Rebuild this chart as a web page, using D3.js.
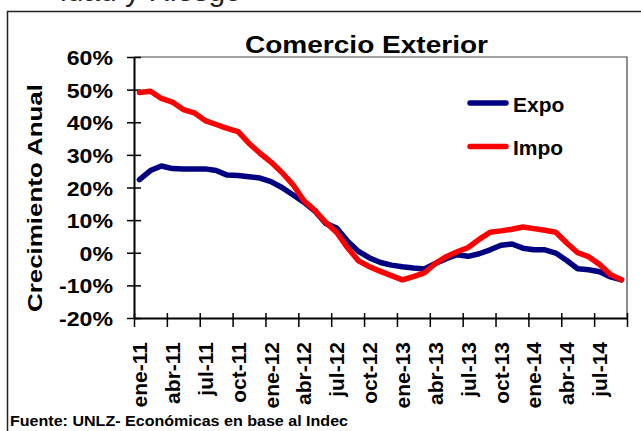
<!DOCTYPE html>
<html>
<head>
<meta charset="utf-8">
<script src="https://cdn.jsdelivr.net/npm/d3@7"></script>
<style>
  body { margin: 0; background: #fff; }
  svg { display: block; font-family: "Liberation Sans", Arial, sans-serif; }
</style>
</head>
<body>
<div id="chart"></div>
<script>
// Month labels, ene-11 to sep-14
const monthNames = ["ene", "feb", "mar", "abr", "may", "jun", "jul", "ago", "sep", "oct", "nov", "dic"];
const years = ["11", "12", "13", "14"];
const months = [];
years.forEach(y => monthNames.forEach(m => months.push(m + "-" + y)));
months.length = 45;

// Annual growth (%)
const expo = [22.4, 25.2, 26.6, 25.8, 25.7, 25.7, 25.7, 25.2, 23.8, 23.7, 23.3, 22.9,
              21.8, 20.0, 17.8, 15.5, 12.8, 9.0, 7.6, 3.5, 0.4, -1.6, -3.0, -3.8,
              -4.3, -4.7, -5.0, -3.3, -1.8, -0.6, -1.1, -0.3, 0.9, 2.3, 2.7, 1.4,
              0.9, 0.9, -0.1, -2.4, -4.9, -5.2, -5.8, -7.4, -8.3];
const impo = [49.1, 49.5, 47.3, 46.2, 43.9, 42.9, 40.5, 39.3, 38.1, 37.1, 33.5, 30.5,
              27.8, 24.6, 20.9, 16.0, 13.0, 9.3, 6.2, 1.5, -2.5, -4.3, -5.7, -7.0,
              -8.3, -7.3, -6.2, -3.3, -1.2, 0.3, 1.6, 4.1, 6.3, 6.7, 7.2, 7.9,
              7.4, 6.9, 6.3, 3.0, 0.0, -1.2, -3.6, -6.7, -8.3];
const yTicks = [-20, -10, 0, 10, 20, 30, 40, 50, 60];

const series = [
  { name: "Expo", values: expo, color: "#000080" },
  { name: "Impo", values: impo, color: "#ff0000" }
];

const W = 641, H = 431;
const plot = { left: 134, right: 627, top: 57, bottom: 318 };

const svg = d3.select("#chart").append("svg")
  .attr("width", W).attr("height", H);

svg.append("rect").attr("width", W).attr("height", H).attr("fill", "#fff");

// clipped heading from the page above the chart
svg.append("text")
  .attr("x", 60).attr("y", 0.5)
  .style("font-size", "30px").style("fill", "#222")
  .text("idad y Riesgo");

// outer chart frame
svg.append("rect")
  .attr("x", 7.5).attr("y", 11.5)
  .attr("width", W + 10).attr("height", H + 10)
  .attr("fill", "none").attr("stroke", "#222").attr("stroke-width", 1.5);

const x = d3.scaleLinear().domain([0, months.length]).range([plot.left, plot.right]);
const y = d3.scaleLinear().domain([-20, 60]).range([plot.bottom, plot.top]);

// plot area border (top and right)
svg.append("path")
  .attr("d", `M${plot.left},${plot.top}H${plot.right}V${plot.bottom}`)
  .attr("fill", "none").attr("stroke", "#444").attr("stroke-width", 1.2);

// y axis
const yAxis = svg.append("g")
  .attr("transform", `translate(${plot.left},0)`)
  .call(d3.axisLeft(y).tickValues(yTicks).tickFormat(d => d + "%").tickSize(7).tickSizeOuter(0));
yAxis.select(".domain").attr("stroke", "#000").attr("stroke-width", 2);
yAxis.selectAll(".tick line").attr("x1", 7).attr("x2", -7).attr("stroke", "#000").attr("stroke-width", 1.5);
yAxis.selectAll(".tick text")
  .attr("x", -21).attr("dy", "0.36em")
  .style("font-size", "21px").style("font-weight", "bold").style("fill", "#000")
  .each(function () {
    const w = this.getComputedTextLength();
    d3.select(this).attr("textLength", w * 1.1).attr("lengthAdjust", "spacingAndGlyphs");
  });

// x axis: ticks between every third month
const xAxis = svg.append("g")
  .attr("transform", `translate(0,${plot.bottom})`)
  .call(d3.axisBottom(x).tickValues(d3.range(0, months.length + 1, 3)).tickFormat("").tickSize(9).tickSizeOuter(0));
xAxis.select(".domain").attr("stroke", "#000").attr("stroke-width", 2);
xAxis.selectAll(".tick line").attr("y1", -5).attr("y2", 9).attr("stroke", "#000").attr("stroke-width", 1.5);

svg.append("g").selectAll("text")
  .data(months.map((m, i) => ({ m, i })).filter(d => d.i % 3 === 0))
  .join("text")
  .attr("transform", d => `translate(${x(d.i + 0.5)},342) rotate(-90)`)
  .attr("text-anchor", "end")
  .attr("dy", "0.36em")
  .style("font-size", "21px").style("font-weight", "bold")
  .text(d => d.m);

// series lines
const line = d3.line()
  .x((d, i) => x(i + 0.5))
  .y(d => y(d));

svg.append("g").selectAll("path")
  .data(series)
  .join("path")
  .attr("d", d => line(d.values))
  .attr("fill", "none")
  .attr("stroke", d => d.color)
  .attr("stroke-width", 5.5)
  .attr("stroke-linejoin", "round")
  .attr("stroke-linecap", "round");

// legend
const legend = svg.append("g").selectAll("g")
  .data(series)
  .join("g")
  .attr("transform", (d, i) => `translate(470,${103 + i * 43.5})`);
legend.append("line")
  .attr("x1", 0).attr("x2", 36)
  .attr("stroke", d => d.color).attr("stroke-width", 5.5).attr("stroke-linecap", "round");
legend.append("text")
  .attr("x", 43).attr("y", 8.5)
  .style("font-size", "21px").style("font-weight", "bold")
  .text(d => d.name);

// title
svg.append("text")
  .attr("x", 245).attr("y", 53)
  .attr("textLength", 243).attr("lengthAdjust", "spacingAndGlyphs")
  .style("font-size", "24px").style("font-weight", "bold")
  .text("Comercio Exterior");

// y axis title
svg.append("text")
  .attr("transform", "translate(42,198) rotate(-90)")
  .attr("text-anchor", "middle")
  .attr("textLength", 228).attr("lengthAdjust", "spacingAndGlyphs")
  .style("font-size", "21px").style("font-weight", "bold")
  .text("Crecimiento Anual");

// source
svg.append("text")
  .attr("x", 10).attr("y", 426)
  .attr("textLength", 338).attr("lengthAdjust", "spacingAndGlyphs")
  .style("font-size", "14px").style("font-weight", "bold")
  .text("Fuente: UNLZ- Económicas en base al Indec");
</script>
</body>
</html>
